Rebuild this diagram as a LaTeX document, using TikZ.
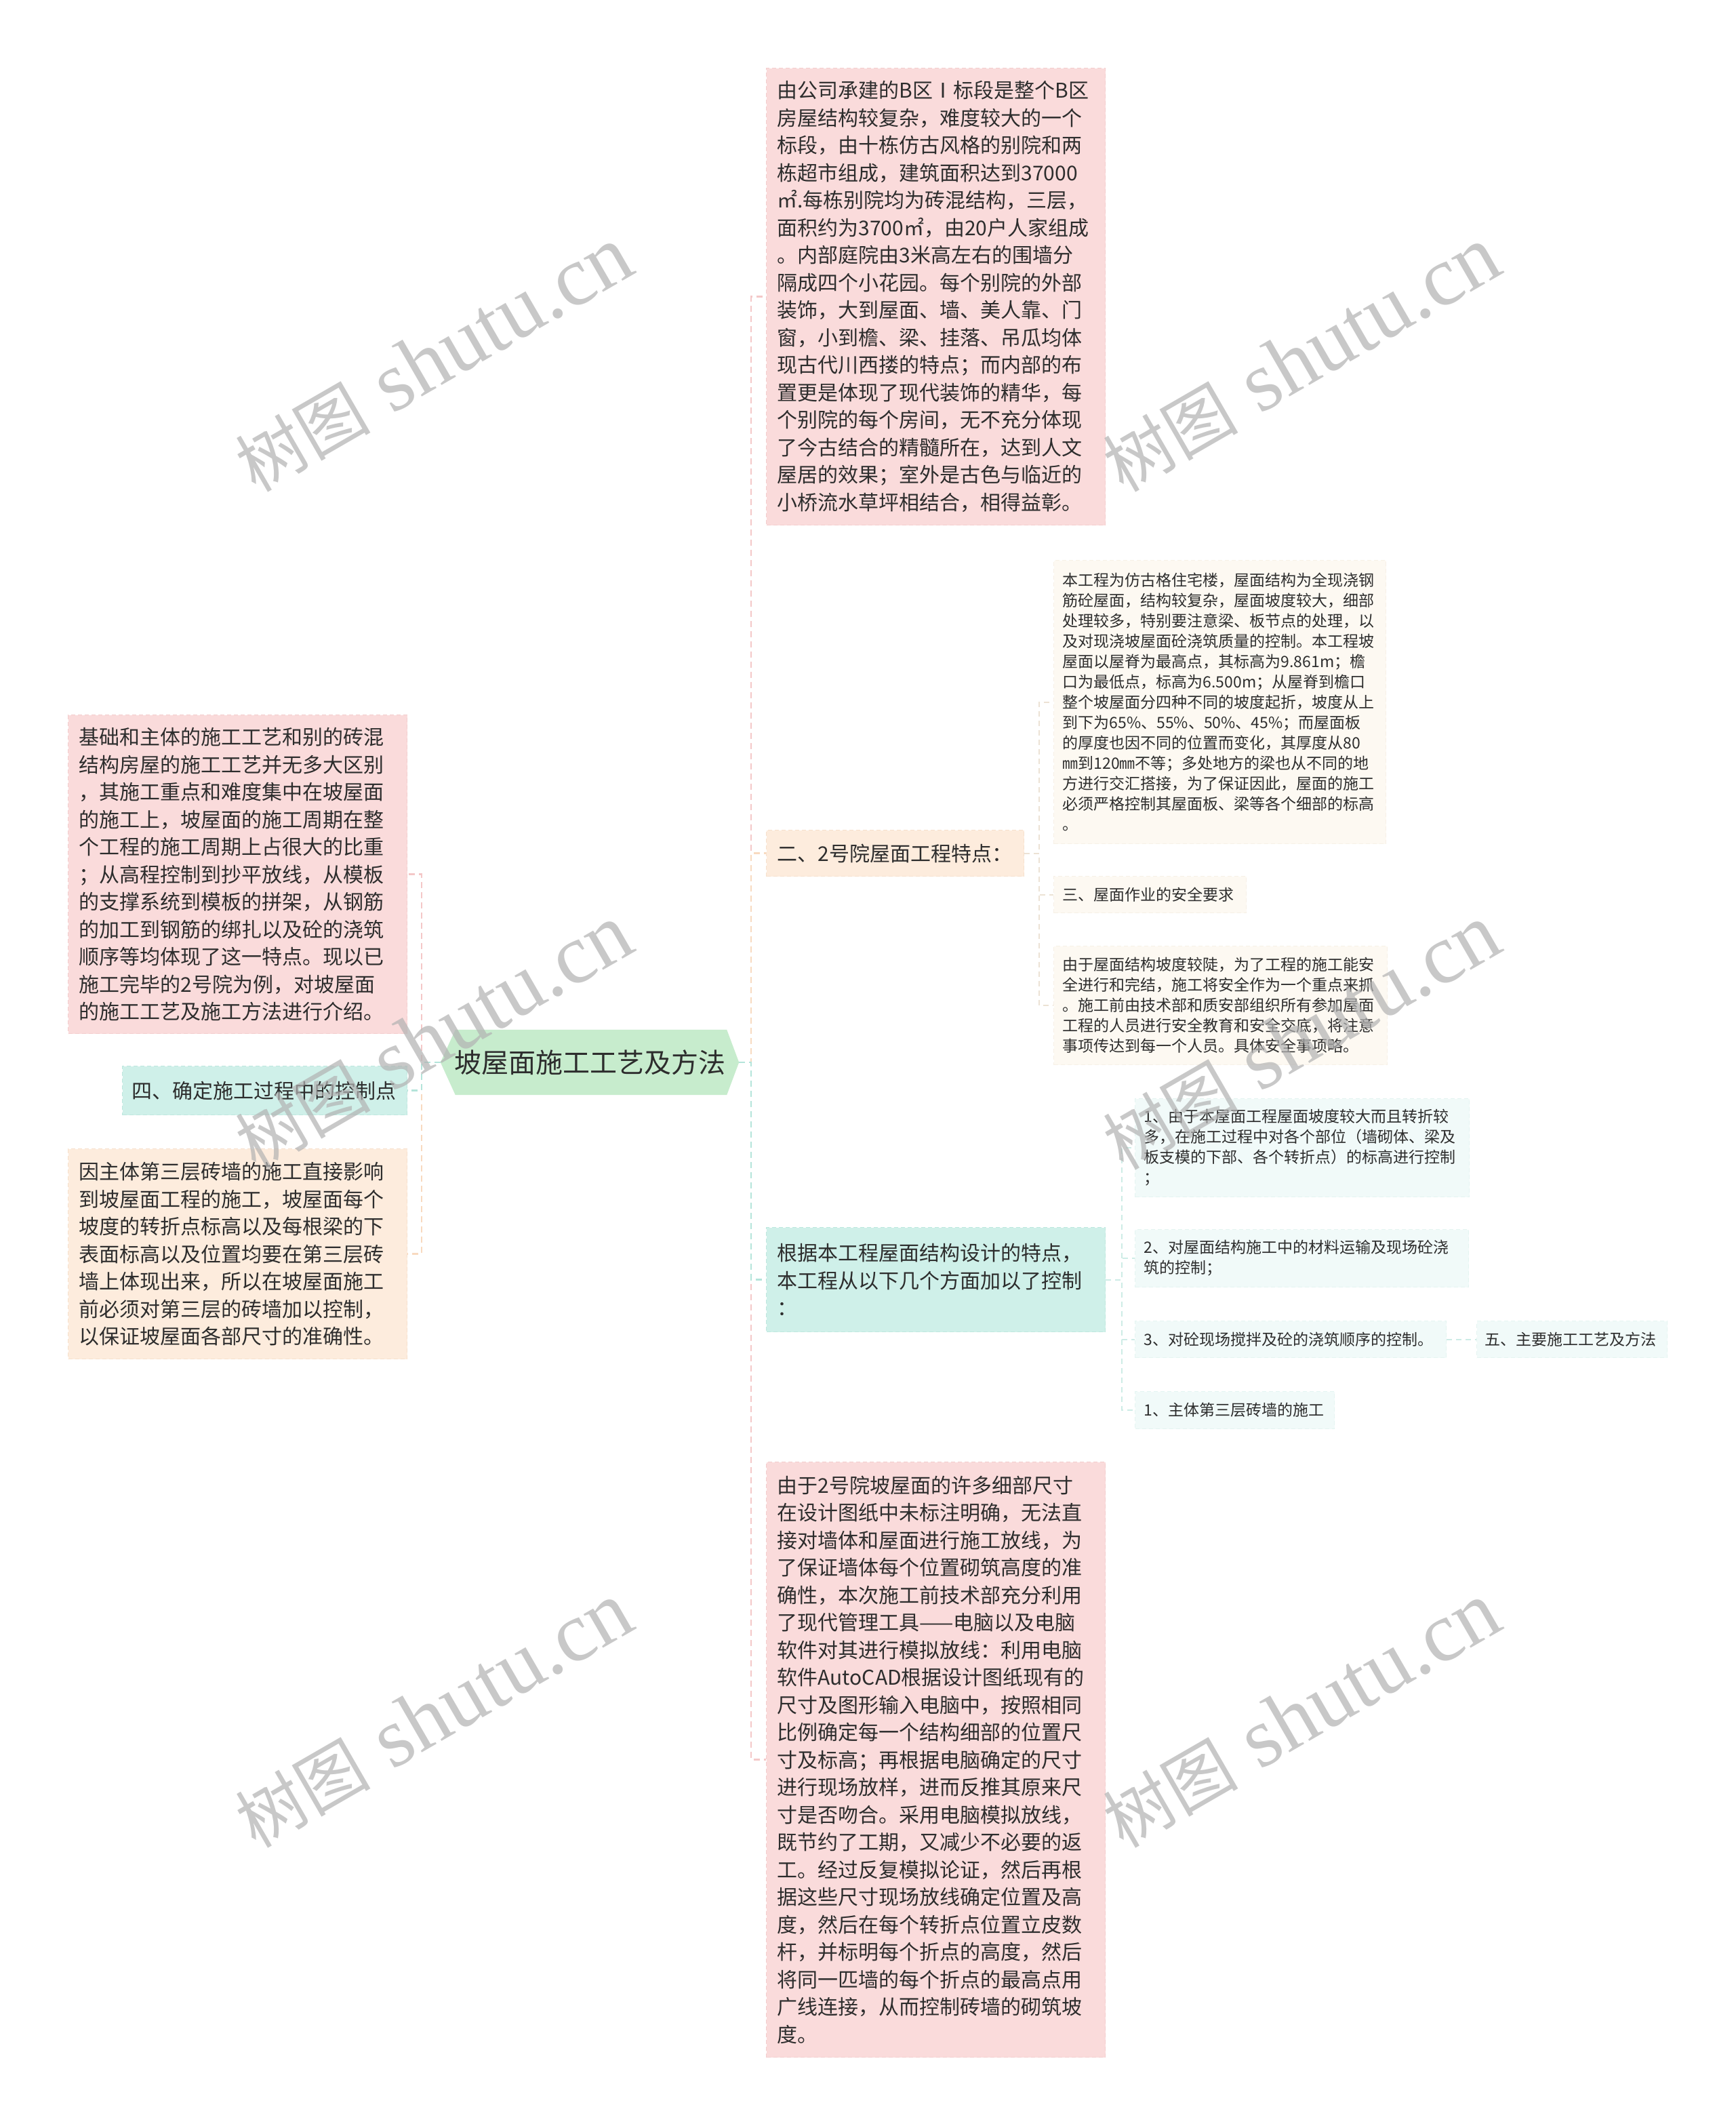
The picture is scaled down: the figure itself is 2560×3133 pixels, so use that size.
\documentclass[tikz,border=0pt]{standalone}
\usepackage{fontspec}
\setmainfont{Noto Sans CJK SC}
\newfontfamily\cjkfont{Noto Sans CJK SC}
\newfontfamily\wmlatin{Liberation Serif}
\usetikzlibrary{backgrounds}
\definecolor{pinkF}{RGB}{250,219,219}
\definecolor{pinkB}{RGB}{243,205,205}
\definecolor{pinkD}{RGB}{244,200,200}
\definecolor{peachF}{RGB}{253,236,221}
\definecolor{peachB}{RGB}{246,224,204}
\definecolor{peachD}{RGB}{248,218,192}
\definecolor{tealF}{RGB}{207,240,233}
\definecolor{tealB}{RGB}{190,231,222}
\definecolor{tealD}{RGB}{180,228,218}
\definecolor{greenF}{RGB}{199,236,205}
\definecolor{creamF}{RGB}{253,249,242}
\definecolor{creamB}{RGB}{246,240,230}
\definecolor{creamD}{RGB}{236,226,212}
\definecolor{lteal}{RGB}{241,250,249}
\definecolor{ltealB}{RGB}{228,244,241}
\definecolor{ltealD}{RGB}{205,236,230}
\definecolor{txt}{RGB}{45,45,45}
\newcommand{\wmtext}{{\cjkfont\fontsize{100}{100}\selectfont 树图}\hspace{32pt}{\wmlatin\fontsize{125}{125}\selectfont shutu.cn}}
\tikzset{
  boxbase/.style={anchor=north west, inner xsep=16pt, inner ysep=0pt, align=left, text=txt, dash pattern=on 6pt off 4pt, line width=1.2pt},
  bigtext/.style={font=\fontsize{30}{40.5}\selectfont},
  smalltext/.style={font=\fontsize{23}{30}\selectfont, inner xsep=13pt},
  pinkbox/.style={boxbase, fill=pinkF, draw=pinkB},
  peachbox/.style={boxbase, fill=peachF, draw=peachB},
  tealbox/.style={boxbase, fill=tealF, draw=tealB},
  creambox/.style={boxbase, fill=creamF, draw=creamB},
  ltealbox/.style={boxbase, fill=lteal, draw=ltealB},
  edge/.style={line width=2.5pt, dash pattern=on 9pt off 6pt},
  subedge/.style={line width=2pt, dash pattern=on 8pt off 6pt},
  wm/.style={rotate=30, text=black!30, text opacity=0.7, inner sep=0pt},
}
\begin{document}
\begin{tikzpicture}[x={(1pt,0pt)}, y={(0pt,-1pt)}]
\useasboundingbox (0,0) rectangle (2560,3133);

% central node
\node[font=\fontsize{40}{48}\selectfont, text=txt, minimum width=440pt, minimum height=96pt, inner sep=0pt] (c) at (870,1567) {坡屋面施工工艺及方法};

% right first-level nodes
\node[pinkbox, bigtext, minimum width=500pt, minimum height=674pt, text width=468pt] (D) at (1130,100) {由公司承建的B区Ⅰ标段是整个B区\\房屋结构较复杂，难度较大的一个\\标段，由十栋仿古风格的别院和两\\栋超市组成，建筑面积达到37000\\㎡.每栋别院均为砖混结构，三层，\\面积约为3700㎡，由20户人家组成\\。内部庭院由3米高左右的围墙分\\隔成四个小花园。每个别院的外部\\装饰，大到屋面、墙、美人靠、门\\窗，小到檐、梁、挂落、吊瓜均体\\现古代川西搂的特点；而内部的布\\置更是体现了现代装饰的精华，每\\个别院的每个房间，无不充分体现\\了今古结合的精髓所在，达到人文\\屋居的效果；室外是古色与临近的\\小桥流水草坪相结合，相得益彰。};

\node[peachbox, bigtext, minimum width=380pt, minimum height=68pt, text width=348pt] (E) at (1130,1224) {二、2号院屋面工程特点：};

\node[tealbox, bigtext, minimum width=500pt, minimum height=154pt, text width=468pt] (F) at (1130,1810) {根据本工程屋面结构设计的特点，\\本工程从以下几个方面加以了控制\\：};

\node[pinkbox, bigtext, minimum width=500pt, minimum height=878pt, text width=468pt] (G) at (1130,2156) {由于2号院坡屋面的许多细部尺寸\\在设计图纸中未标注明确，无法直\\接对墙体和屋面进行施工放线，为\\了保证墙体每个位置砌筑高度的准\\确性，本次施工前技术部充分利用\\了现代管理工具——电脑以及电脑\\软件对其进行模拟放线：利用电脑\\软件AutoCAD根据设计图纸现有的\\尺寸及图形输入电脑中，按照相同\\比例确定每一个结构细部的位置尺\\寸及标高；再根据电脑确定的尺寸\\进行现场放样，进而反推其原来尺\\寸是否吻合。采用电脑模拟放线，\\既节约了工期，又减少不必要的返\\工。经过反复模拟论证，然后再根\\据这些尺寸现场放线确定位置及高\\度，然后在每个转折点位置立皮数\\杆，并标明每个折点的高度，然后\\将同一匹墙的每个折点的最高点用\\广线连接，从而控制砖墙的砌筑坡\\度。};

% left first-level nodes
\node[pinkbox, bigtext, minimum width=500pt, minimum height=470pt, text width=468pt] (A) at (100,1054) {基础和主体的施工工艺和别的砖混\\结构房屋的施工工艺并无多大区别\\，其施工重点和难度集中在坡屋面\\的施工上，坡屋面的施工周期在整\\个工程的施工周期上占很大的比重\\；从高程控制到抄平放线，从模板\\的支撑系统到模板的拼架，从钢筋\\的加工到钢筋的绑扎以及砼的浇筑\\顺序等均体现了这一特点。现以已\\施工完毕的2号院为例，对坡屋面\\的施工工艺及施工方法进行介绍。};

\node[tealbox, bigtext, inner xsep=14pt, minimum width=420pt, minimum height=72pt, text width=392pt] (B) at (180,1572) {四、确定施工过程中的控制点};

\node[peachbox, bigtext, minimum width=500pt, minimum height=310pt, text width=468pt] (C) at (100,1694) {因主体第三层砖墙的施工直接影响\\到坡屋面工程的施工，坡屋面每个\\坡度的转折点标高以及每根梁的下\\表面标高以及位置均要在第三层砖\\墙上体现出来，所以在坡屋面施工\\前必须对第三层的砖墙加以控制，\\以保证坡屋面各部尺寸的准确性。};

% children of E
\node[creambox, smalltext, minimum width=490pt, minimum height=418pt, text width=464pt] (E1) at (1554,826) {本工程为仿古格住宅楼，屋面结构为全现浇钢\\筋砼屋面，结构较复杂，屋面坡度较大，细部\\处理较多，特别要注意梁、板节点的处理，以\\及对现浇坡屋面砼浇筑质量的控制。本工程坡\\屋面以屋脊为最高点，其标高为9.861m；檐\\口为最低点，标高为6.500m；从屋脊到檐口\\整个坡屋面分四种不同的坡度起折，坡度从上\\到下为65\%、55\%、50\%、45\%；而屋面板\\的厚度也因不同的位置而变化，其厚度从80\\㎜到120㎜不等；多处地方的梁也从不同的地\\方进行交汇搭接，为了保证因此，屋面的施工\\必须严格控制其屋面板、梁等各个细部的标高\\。};

\node[creambox, smalltext, minimum width=284pt, minimum height=54pt, text width=258pt] (E2) at (1554,1292) {三、屋面作业的安全要求};

\node[creambox, smalltext, minimum width=492pt, minimum height=175pt, text width=466pt] (E3) at (1554,1395) {由于屋面结构坡度较陡，为了工程的施工能安\\全进行和完结，施工将安全作为一个重点来抓\\。施工前由技术部和质安部组织所有参加屋面\\工程的人员进行安全教育和安全交底，将注意\\事项传达到每一个人员。具体安全事项略。};

% children of F
\node[ltealbox, smalltext, minimum width=493pt, minimum height=145pt, text width=467pt] (F1) at (1674,1620) {1、由于本屋面工程屋面坡度较大而且转折较\\多，在施工过程中对各个部位（墙砌体、梁及\\板支模的下部、各个转折点）的标高进行控制\\；};

\node[ltealbox, smalltext, minimum width=492pt, minimum height=85pt, text width=466pt] (F2) at (1674,1813) {2、对屋面结构施工中的材料运输及现场砼浇\\筑的控制；};

\node[ltealbox, smalltext, minimum width=459pt, minimum height=54pt, text width=433pt] (F3) at (1674,1948) {3、对砼现场搅拌及砼的浇筑顺序的控制。};

\node[ltealbox, smalltext, inner xsep=12pt, minimum width=281pt, minimum height=54pt, text width=257pt] (F3a) at (2178,1948) {五、主要施工工艺及方法};

\node[ltealbox, smalltext, minimum width=294pt, minimum height=55pt, text width=268pt] (F4) at (1674,2052) {1、主体第三层砖墙的施工};

% connectors, right side
\draw[edge, draw=pinkD] (c.east) -- ++(18pt,0) |- (D.west);
\draw[edge, draw=pinkD] (c.east) -- ++(18pt,0) |- (G.west);
\draw[edge, draw=peachD] (c.east) -- ++(18pt,0) |- (E.west);
\draw[edge, draw=tealD] (c.east) -- ++(18pt,0) |- (F.west);
% connectors, left side
\draw[edge, draw=pinkD] (c.west) -- ++(-28pt,0) |- (A.east);
\draw[edge, draw=peachD] (c.west) -- ++(-28pt,0) |- (C.east);
\draw[edge, draw=tealD] (c.west) -- ++(-28pt,0) |- (B.east);
% second level
\draw[subedge, draw=creamD] (E.east) -- ++(22pt,0) |- (E1.west);
\draw[subedge, draw=creamD] (E.east) -- ++(22pt,0) |- (E2.west);
\draw[subedge, draw=creamD] (E.east) -- ++(22pt,0) |- (E3.west);
\draw[subedge, draw=ltealD] (F.east) -- ++(24pt,0) |- (F1.west);
\draw[subedge, draw=ltealD] (F.east) -- ++(24pt,0) |- (F2.west);
\draw[subedge, draw=ltealD] (F.east) -- ++(24pt,0) |- (F3.west);
\draw[subedge, draw=ltealD] (F.east) -- ++(24pt,0) |- (F4.west);
\draw[subedge, draw=ltealD] (F3.east) -- (F3a.west);

% background and hexagon
\begin{scope}[on background layer]
\fill[white] (0,0) rectangle (2560,3133);
\fill[greenF] ([xshift=22pt]c.north west) -- ([xshift=-18pt]c.north east) -- (c.east) -- ([xshift=-18pt]c.south east) -- ([xshift=22pt]c.south west) -- (c.west) -- cycle;
\end{scope}

% watermarks
\node[wm] (w1) at (640,530) {\wmtext};
\node[wm] (w2) at (1920,530) {\wmtext};
\node[wm] (w3) at (640,1530) {\wmtext};
\node[wm] (w4) at (1920,1530) {\wmtext};
\node[wm] (w5) at (640,2530) {\wmtext};
\node[wm] (w6) at (1920,2530) {\wmtext};
\end{tikzpicture}
\end{document}
